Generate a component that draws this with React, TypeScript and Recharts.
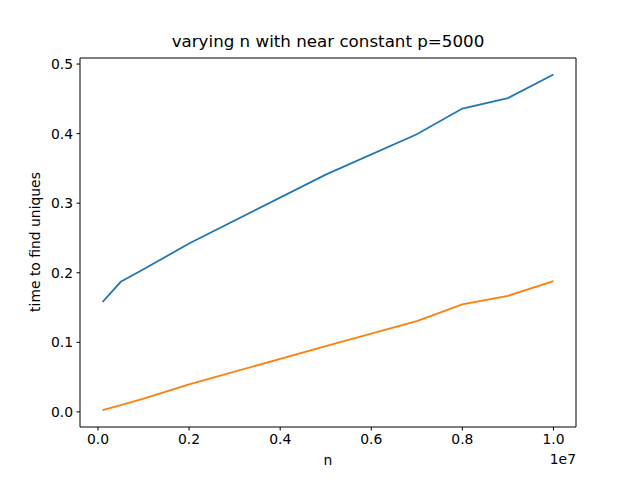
import React from 'react';
import { LineChart, Line, XAxis, YAxis, ReferenceLine } from 'recharts';

// n values (raw), shown on axis in units of 1e7
const nValues = [100000, 500000, 1000000, 2000000, 5000000, 7000000, 8000000, 9000000, 10000000];
const blueTimes = [0.158, 0.187, 0.205, 0.242, 0.341, 0.399, 0.436, 0.451, 0.485];
const orangeTimes = [0.0024, 0.0098, 0.019, 0.0395, 0.0945, 0.1306, 0.1545, 0.1669, 0.188];
const xTicks = [0, 2000000, 4000000, 6000000, 8000000, 10000000];
const yTicks = [0, 0.1, 0.2, 0.3, 0.4, 0.5];

const data = nValues.map((n, i) => ({ n, blue: blueTimes[i], orange: orangeTimes[i] }));

const FONT = '"DejaVu Sans", sans-serif';
const tickStyle = { fontSize: 13.9, fill: '#000', fontFamily: FONT };
const X_DOMAIN = [-395000, 10495000];
const Y_DOMAIN = [-0.0217, 0.5087];

const App: React.FC = () => {
  return (
    <div style={{ position: 'absolute', left: 0, top: 0, width: 640, height: 480, background: '#fff', fontFamily: FONT }}>
      <LineChart width={640} height={480} data={data} margin={{ top: 58, right: 64, bottom: 23, left: 0 }}>
        <XAxis
          dataKey="n"
          type="number"
          domain={X_DOMAIN}
          allowDataOverflow
          ticks={xTicks}
          tickFormatter={(v: number) => (v / 1e7).toFixed(1)}
          tick={tickStyle}
          tickSize={3.5}
          tickMargin={3.5}
          height={30}
          stroke="#000"
          tickLine={{ stroke: '#000' }}
        />
        <YAxis
          type="number"
          domain={Y_DOMAIN}
          allowDataOverflow
          ticks={yTicks}
          tickFormatter={(v: number) => v.toFixed(1)}
          tick={tickStyle}
          tickSize={3.5}
          tickMargin={3.5}
          width={80}
          stroke="#000"
          tickLine={{ stroke: '#000' }}
        />
        {/* top and right spines */}
        <ReferenceLine y={Y_DOMAIN[1]} stroke="#000" ifOverflow="visible" />
        <ReferenceLine x={X_DOMAIN[1]} stroke="#000" ifOverflow="visible" />
        <Line dataKey="blue" stroke="#1f77b4" strokeWidth={1.8} dot={false} isAnimationActive={false} />
        <Line dataKey="orange" stroke="#ff7f0e" strokeWidth={1.8} dot={false} isAnimationActive={false} />
      </LineChart>
      <div style={{ position: 'absolute', left: 80, width: 496, top: 31, textAlign: 'center', fontSize: 16.7, color: '#000' }}>
        varying n with near constant p=5000
      </div>
      <div style={{ position: 'absolute', left: 80, width: 496, top: 452, textAlign: 'center', fontSize: 13.9, color: '#000' }}>
        n
      </div>
      <div style={{ position: 'absolute', right: 64, top: 451, fontSize: 13.9, color: '#000' }}>1e7</div>
      <div
        style={{
          position: 'absolute',
          left: 35,
          top: 242,
          transform: 'translate(-50%, -50%) rotate(-90deg)',
          whiteSpace: 'nowrap',
          fontSize: 13.9,
          color: '#000',
        }}
      >
        time to find uniques
      </div>
    </div>
  );
};

export default App;
